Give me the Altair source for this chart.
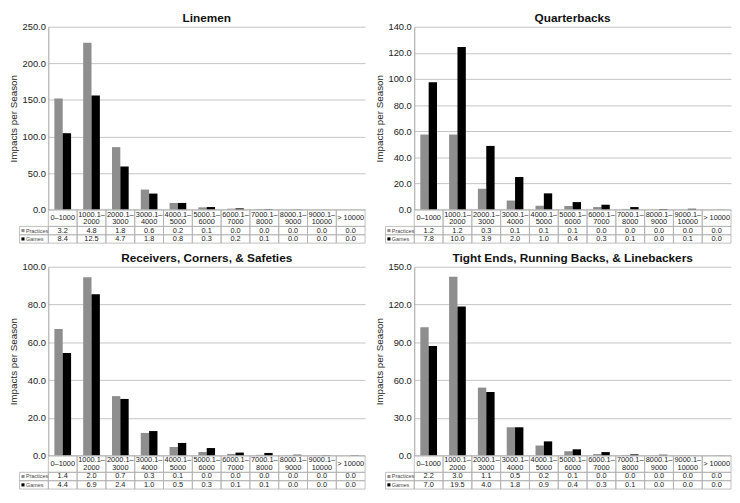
import altair as alt
import pandas as pd

# ---------------- data ----------------
CATEGORIES = ["0–1000", "1000.1–2000", "2000.1–3000", "3000.1–4000", "4000.1–5000",
              "5000.1–6000", "6000.1–7000", "7000.1–8000", "8000.1–9000",
              "9000.1–10000", "> 10000"]
SERIES = ["Practices", "Games"]

TITLES = ["Linemen", "Quarterbacks", "Receivers, Corners, & Safeties",
          "Tight Ends, Running Backs, & Linebackers"]

# bar heights (impacts per season)
LINEMEN_PRACTICES = [152.0, 228.0, 85.5, 27.5, 9.2, 3.2, 1.4, 0.8, 0.3, 0.1, 0.0]
LINEMEN_GAMES = [104.5, 156.0, 59.0, 22.0, 9.2, 3.6, 1.8, 0.8, 0.2, 0.1, 0.0]
QB_PRACTICES = [57.5, 57.5, 16.0, 7.0, 3.0, 2.8, 2.0, 0.5, 0.1, 0.1, 0.0]
QB_GAMES = [97.5, 124.5, 48.8, 25.0, 12.5, 5.8, 3.8, 2.0, 0.5, 0.7, 0.1]
REC_PRACTICES = [67.0, 94.5, 31.5, 12.0, 4.6, 1.9, 0.9, 0.4, 0.1, 0.1, 0.0]
REC_GAMES = [54.3, 85.5, 30.0, 13.0, 6.7, 4.0, 1.6, 1.4, 0.4, 0.2, 0.2]
TE_PRACTICES = [102.0, 142.0, 54.0, 22.5, 8.0, 3.5, 1.2, 0.5, 0.2, 0.3, 0.1]
TE_GAMES = [87.0, 118.5, 50.5, 22.5, 11.3, 5.0, 2.8, 1.0, 0.6, 0.1, 0.1]

# values printed in the data tables
LINEMEN_TABLE_PRACTICES = [3.2, 4.8, 1.8, 0.6, 0.2, 0.1, 0.0, 0.0, 0.0, 0.0, 0.0]
LINEMEN_TABLE_GAMES = [8.4, 12.5, 4.7, 1.8, 0.8, 0.3, 0.2, 0.1, 0.0, 0.0, 0.0]
QB_TABLE_PRACTICES = [1.2, 1.2, 0.3, 0.1, 0.1, 0.1, 0.0, 0.0, 0.0, 0.0, 0.0]
QB_TABLE_GAMES = [7.8, 10.0, 3.9, 2.0, 1.0, 0.4, 0.3, 0.1, 0.0, 0.1, 0.0]
REC_TABLE_PRACTICES = [1.4, 2.0, 0.7, 0.3, 0.1, 0.0, 0.0, 0.0, 0.0, 0.0, 0.0]
REC_TABLE_GAMES = [4.4, 6.9, 2.4, 1.0, 0.5, 0.3, 0.1, 0.1, 0.0, 0.0, 0.0]
TE_TABLE_PRACTICES = [2.2, 3.0, 1.1, 0.5, 0.2, 0.1, 0.0, 0.0, 0.0, 0.0, 0.0]
TE_TABLE_GAMES = [7.0, 19.5, 4.0, 1.8, 0.9, 0.4, 0.3, 0.1, 0.0, 0.0, 0.0]

# y-axis tick labels
LINEMEN_TICKS = [0, 50, 100, 150, 200, 250]
QB_TICKS = [0, 20, 40, 60, 80, 100, 120, 140]
REC_TICKS = [0, 20, 40, 60, 80, 100]
TE_TICKS = [0, 30, 60, 90, 120, 150]

# ---------------- layout / style ----------------
FONT = "Liberation Sans"
W = 322
TABLE_H = 34
PLOT_H = [186, 186, 192, 192]
STEP = W / len(CATEGORIES)
LEGEND_COL = "legend"
BAR_COLORS = ["#8e8e8e", "#000000"]
BORDER = "#b0b0b0"
TEXT = "#222222"
# table rows in table units: category row spans 0-2, Practices 2-3, Games 3-4
ROWS = {"cat": (0, 2), "Practices": (2, 3), "Games": (3, 4)}


def label_lines(label):
    """Split a long range label after its dash, as the table shows it."""
    if len(label) > 7 and "–" in label:
        a, b = label.split("–")
        return [a + "–", b]
    return [label]


color_scale = alt.Scale(domain=SERIES, range=BAR_COLORS)


def panel(title, bar_p, bar_g, tab_p, tab_g, ticks, plot_h):
    bars_df = pd.DataFrame({
        "category": CATEGORIES * 2,
        "series": ["Practices"] * len(CATEGORIES) + ["Games"] * len(CATEGORIES),
        "value": bar_p + bar_g,
    })
    bars = alt.Chart(bars_df).mark_bar().encode(
        x=alt.X("category:N", sort=CATEGORIES,
                scale=alt.Scale(domain=CATEGORIES, range=[0, W],
                                paddingInner=0.42, paddingOuter=0.21),
                axis=None),
        xOffset=alt.XOffset("series:N", sort=SERIES, scale=alt.Scale(domain=SERIES)),
        y=alt.Y("value:Q",
                scale=alt.Scale(domain=[ticks[0], ticks[-1]], range=[plot_h, 0],
                                nice=False, zero=True),
                axis=alt.Axis(values=ticks, format=".1f", title="Impacts per Season",
                              grid=True, gridColor="#c4c4c4", gridWidth=1,
                              domain=True, domainColor="#a0a0a0", ticks=False,
                              labelFont=FONT, labelFontSize=9.5, labelColor=TEXT,
                              labelPadding=3, titleFont=FONT, titleFontSize=10,
                              titleFontWeight="normal", titleColor=TEXT,
                              titlePadding=4)),
        color=alt.Color("series:N", scale=color_scale, legend=None),
    )

    # ---- data table below the plot ----
    cols = [LEGEND_COL] + CATEGORIES
    tx = alt.Scale(domain=cols, range=[-STEP, W], paddingInner=0, paddingOuter=0)
    ty = alt.Scale(domain=[0, 4], range=[plot_h, plot_h + TABLE_H], nice=False, zero=False)

    cells = []
    for c in CATEGORIES:
        for r in ["cat", "Practices", "Games"]:
            cells.append({"col": c, "top": ROWS[r][0], "bottom": ROWS[r][1]})
    for r in SERIES:
        cells.append({"col": LEGEND_COL, "top": ROWS[r][0], "bottom": ROWS[r][1]})
    cells_df = pd.DataFrame(cells)

    texts = []
    c0, c1 = ROWS["cat"]
    for c in CATEGORIES:
        lines = label_lines(c)
        n = len(lines)
        for i, line in enumerate(lines):
            texts.append({"col": c, "ty": c0 + (c1 - c0) * (i + 0.5) / n + (0.08 if n == 2 and i == 0 else 0),
                          "text": line})
    for c, v in zip(CATEGORIES, tab_p):
        texts.append({"col": c, "ty": sum(ROWS["Practices"]) / 2, "text": f"{v:.1f}"})
    for c, v in zip(CATEGORIES, tab_g):
        texts.append({"col": c, "ty": sum(ROWS["Games"]) / 2, "text": f"{v:.1f}"})
    texts_df = pd.DataFrame(texts)

    legend_df = pd.DataFrame({
        "col": [LEGEND_COL] * 2,
        "ty": [sum(ROWS[s]) / 2 for s in SERIES],
        "series": SERIES,
    })

    xenc = alt.X("col:N", sort=cols, scale=tx, axis=None)

    border = alt.Chart(cells_df).mark_rect(
        fill="transparent", stroke=BORDER, strokeWidth=0.8
    ).encode(
        x=xenc,
        y=alt.Y("top:Q", scale=ty, axis=None),
        y2="bottom:Q",
    )
    labels = alt.Chart(texts_df).mark_text(
        font=FONT, fontSize=7.5, baseline="middle", color=TEXT
    ).encode(
        x=xenc,
        y=alt.Y("ty:Q", scale=ty, axis=None),
        text="text:N",
    )
    leg_sym = alt.Chart(legend_df).mark_square(
        size=10, opacity=1, xOffset=-STEP / 2 + 3.5
    ).encode(
        x=xenc,
        y=alt.Y("ty:Q", scale=ty, axis=None),
        color=alt.Color("series:N", scale=color_scale, legend=None),
    )
    leg_txt = alt.Chart(legend_df).mark_text(
        font=FONT, fontSize=5.5, align="left", baseline="middle",
        dx=-STEP / 2 + 6.5, color="#444444"
    ).encode(
        x=xenc,
        y=alt.Y("ty:Q", scale=ty, axis=None),
        text="series:N",
    )
    table = alt.layer(border, labels, leg_sym, leg_txt)

    return alt.layer(bars, table).resolve_scale(
        x="independent", y="independent"
    ).properties(
        width=W,
        height=plot_h + TABLE_H,
        title=alt.TitleParams(text=title, font=FONT, fontSize=12, fontWeight="bold",
                              anchor="middle", offset=-3, color="#111111"),
    )


p1 = panel(TITLES[0], LINEMEN_PRACTICES, LINEMEN_GAMES, LINEMEN_TABLE_PRACTICES,
           LINEMEN_TABLE_GAMES, LINEMEN_TICKS, PLOT_H[0])
p2 = panel(TITLES[1], QB_PRACTICES, QB_GAMES, QB_TABLE_PRACTICES,
           QB_TABLE_GAMES, QB_TICKS, PLOT_H[1])
p3 = panel(TITLES[2], REC_PRACTICES, REC_GAMES, REC_TABLE_PRACTICES,
           REC_TABLE_GAMES, REC_TICKS, PLOT_H[2])
p4 = panel(TITLES[3], TE_PRACTICES, TE_GAMES, TE_TABLE_PRACTICES,
           TE_TABLE_GAMES, TE_TICKS, PLOT_H[3])

chart = alt.concat(p1, p2, p3, p4, columns=2, spacing={"row": 8, "column": 8}).properties(
    padding=0, background="white"
).configure_view(stroke=None)

chart.save("out.html", embed_options={"renderer": "svg", "actions": False})
